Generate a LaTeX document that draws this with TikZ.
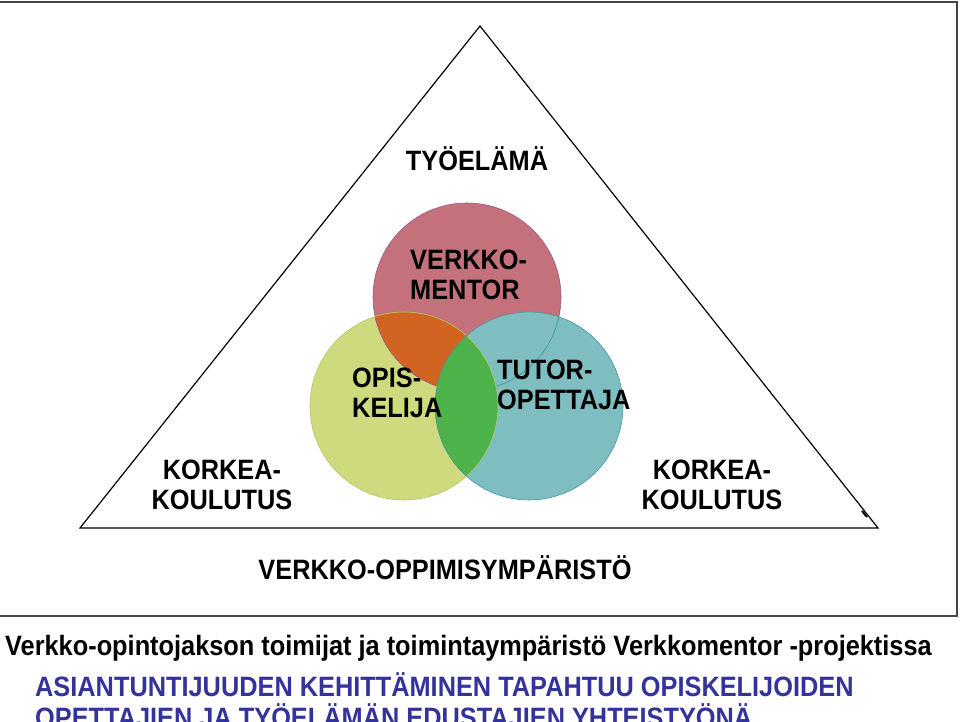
\documentclass[tikz,border=0pt]{standalone}
\usepackage{fontspec}
\setmainfont{Liberation Sans}[FakeStretch=0.905]
\definecolor{cred}{RGB}{196,113,123}
\definecolor{credline}{RGB}{150,90,140}
\definecolor{cyel}{RGB}{206,218,125}
\definecolor{cyelline}{RGB}{180,200,100}
\definecolor{cteal}{RGB}{127,190,192}
\definecolor{ctealline}{RGB}{70,150,160}
\definecolor{corange}{RGB}{208,100,32}
\definecolor{cgreen}{RGB}{78,178,74}
\definecolor{cblue}{RGB}{51,51,153}
\definecolor{cframe}{RGB}{70,70,70}
\begin{document}
\begin{tikzpicture}[x=1pt,y=-1pt,
  lbl/.style={inner sep=0pt, font=\fontsize{28}{30}\bfseries\selectfont, align=left},
  clbl/.style={lbl, align=center},
  tri/.style={draw=black, line width=1.2pt, line join=miter},
  framel/.style={draw=cframe, line width=1.4pt}]
\useasboundingbox (0,0) rectangle (960,722);
\fill[white] (0,0) rectangle (960,722);
% frame
\coordinate (ftl) at (0,2);
\coordinate (ftr) at (957,2);
\coordinate (fbr) at (957,616);
\coordinate (fbl) at (0,616);
\draw[framel] (ftl) -- (ftr) -- (fbr) -- (fbl);
% triangle
\coordinate (apex) at (480,26);
\coordinate (bl) at (80,528);
\coordinate (br) at (878,528);
\draw[tri] (apex) -- (bl) -- (br) -- cycle;
\coordinate (tk1) at (862,511);
\coordinate (tk2) at (867,517);
\draw[line width=2pt] (tk1) -- (tk2);
% circles
\coordinate (cR) at (467,297);
\coordinate (cY) at (404,406);
\coordinate (cT) at (529,406);
\def\rad{94pt}
\fill[cred] (cR) circle[radius=\rad];
\fill[cyel] (cY) circle[radius=\rad];
\begin{scope}
  \clip (cR) circle[radius=\rad];
  \fill[corange] (cY) circle[radius=\rad];
\end{scope}
\draw[credline, line width=0.6pt] (cR) circle[radius=\rad];
\fill[cteal] (cT) circle[radius=\rad];
\begin{scope}
  \clip (cT) circle[radius=\rad];
  \draw[ctealline, line width=0.7pt] (cR) circle[radius=\rad];
\end{scope}
\begin{scope}
  \clip (cY) circle[radius=\rad];
  \fill[cgreen] (cT) circle[radius=\rad];
\end{scope}
\draw[cyelline, line width=0.6pt] (cY) circle[radius=\rad];
\draw[ctealline, line width=0.6pt] (cT) circle[radius=\rad];
% labels
\node[lbl, anchor=base] (tyo) at (477,171) {TYÖELÄMÄ};
\node[lbl, anchor=west] (vm) at (410,275) {VERKKO-\\MENTOR};
\node[lbl, anchor=west] (opis) at (352,393) {OPIS-\\KELIJA};
\node[lbl, anchor=west] (tutor) at (497,385) {TUTOR-\\OPETTAJA};
\node[clbl] (kk1) at (222,485) {KORKEA-\\KOULUTUS};
\node[clbl] (kk2) at (712,485) {KORKEA-\\KOULUTUS};
\node[lbl, anchor=base] (vop) at (445,579) {VERKKO-OPPIMISYMPÄRISTÖ};
\node[lbl, anchor=base west] (title) at (5,655) {Verkko-opintojakson toimijat ja toimintaympäristö Verkkomentor -projektissa};
\node[lbl, text=cblue, anchor=base west] (asia1) at (35,696) {ASIANTUNTIJUUDEN KEHITTÄMINEN TAPAHTUU OPISKELIJOIDEN};
\node[lbl, text=cblue, anchor=base west] (asia2) at (35,727) {OPETTAJIEN JA TYÖELÄMÄN EDUSTAJIEN YHTEISTYÖNÄ};
\end{tikzpicture}
\end{document}
